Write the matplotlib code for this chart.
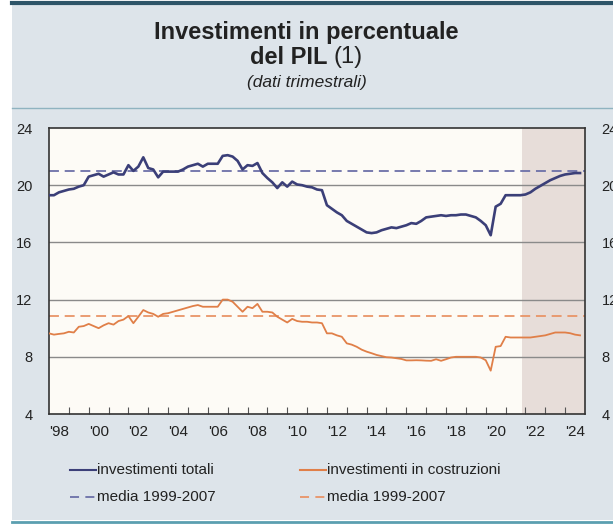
import matplotlib.pyplot as plt
from matplotlib.patches import Rectangle
from matplotlib.lines import Line2D

plt.rcParams['font.family'] = ['Liberation Sans', 'DejaVu Sans']

# quarterly data, 1998Q1 - 2024Q4 (per cent of GDP)
years = list(range(1998, 2025))
inv_totali = [
    19.3, 19.3, 19.5, 19.6,      # 1998
    19.7, 19.75, 19.9, 20.0,     # 1999
    20.6, 20.7, 20.8, 20.6,      # 2000
    20.75, 20.9, 20.75, 20.75,   # 2001
    21.4, 21.0, 21.3, 21.95,     # 2002
    21.2, 21.1, 20.55, 20.95,    # 2003
    20.95, 20.95, 20.95, 21.1,   # 2004
    21.3, 21.4, 21.5, 21.3,      # 2005
    21.5, 21.5, 21.5, 22.05,     # 2006
    22.1, 22.0, 21.7, 21.1,      # 2007
    21.4, 21.35, 21.55, 20.85,   # 2008
    20.5, 20.2, 19.8, 20.2,      # 2009
    19.9, 20.25, 20.05, 20.0,    # 2010
    19.9, 19.85, 19.7, 19.65,    # 2011
    18.6, 18.35, 18.1, 17.9,     # 2012
    17.5, 17.3, 17.1, 16.9,      # 2013
    16.7, 16.65, 16.7, 16.85,    # 2014
    16.95, 17.05, 17.0, 17.1,    # 2015
    17.2, 17.35, 17.3, 17.5,     # 2016
    17.75, 17.8, 17.85, 17.9,    # 2017
    17.85, 17.9, 17.9, 17.95,    # 2018
    17.95, 17.85, 17.75, 17.5,   # 2019
    17.2, 16.5, 18.5, 18.7,      # 2020
    19.3, 19.3, 19.3, 19.3,      # 2021
    19.35, 19.5, 19.75, 19.95,   # 2022
    20.15, 20.35, 20.5, 20.65,   # 2023
    20.75, 20.8, 20.85, 20.85,   # 2024
]
inv_costruzioni = [
    9.64, 9.55, 9.6, 9.64,
    9.75, 9.7, 10.1, 10.15,
    10.3, 10.15, 10.0, 10.2,
    10.35, 10.25, 10.5, 10.6,
    10.85, 10.35, 10.8, 11.27,
    11.1, 11.0, 10.8, 11.0,
    11.05, 11.15, 11.25, 11.35,
    11.45, 11.55, 11.62, 11.5,
    11.5, 11.5, 11.5, 12.0,
    12.0, 11.85, 11.5, 11.15,
    11.5, 11.4, 11.7, 11.15,
    11.15, 11.1, 10.8, 10.6,
    10.4, 10.65, 10.5, 10.45,
    10.45, 10.4, 10.4, 10.35,
    9.64, 9.64, 9.5, 9.4,
    8.94, 8.85, 8.7, 8.5,
    8.36, 8.25, 8.13, 8.05,
    7.97, 7.95, 7.9, 7.85,
    7.75, 7.75, 7.76, 7.75,
    7.73, 7.72, 7.83, 7.72,
    7.83, 7.95, 8.0, 8.0,
    8.0, 8.0, 8.0, 7.95,
    7.76, 7.03, 8.7, 8.75,
    9.4, 9.35, 9.35, 9.35,
    9.35, 9.35, 9.4, 9.45,
    9.5, 9.6, 9.7, 9.7,
    9.7, 9.65, 9.55, 9.5,
]
media_totali = 21.0
media_costruzioni = 10.85
shade_start = 2021.85

t = [y + q / 4 for y in years for q in range(4)]

bg = '#dde4ea'
blue = '#3b3f78'
blue_dash = '#6c70a8'
orange = '#e07f48'
orange_dash = '#e99468'
txt = '#222222'

fig = plt.figure(figsize=(6.13, 5.25), dpi=100, facecolor='white')
fig.patches.append(Rectangle((12 / 613, 5 / 525), 1, 515 / 525,
                             transform=fig.transFigure, facecolor=bg,
                             edgecolor='none', zorder=-10))
fig.lines.append(Line2D([12 / 613, 1], [1 - 3 / 525] * 2, transform=fig.transFigure,
                        color='#2d5468', lw=3))
fig.lines.append(Line2D([12 / 613, 1], [1 - 108 / 525] * 2, transform=fig.transFigure,
                        color='#8fb3c0', lw=1))
fig.lines.append(Line2D([12 / 613, 1], [3 / 525] * 2, transform=fig.transFigure,
                        color='#5b9fb0', lw=2))

# title
fig.text(0.5, 1 - 33 / 525, 'Investimenti in percentuale', ha='center', va='center',
         fontsize=17, fontweight='bold', color=txt)
r = fig.canvas.get_renderer()
t1 = fig.text(0, 1 - 57 / 525, 'del PIL ', ha='left', va='center',
              fontsize=17, fontweight='bold', color=txt)
t2 = fig.text(0, 1 - 57 / 525, '(1)', ha='left', va='center',
              fontsize=17, color=txt)
w1 = t1.get_window_extent(r).width / fig.bbox.width
w2 = t2.get_window_extent(r).width / fig.bbox.width
x0 = 0.5 - (w1 + w2) / 2
t1.set_x(x0)
t2.set_x(x0 + w1)
fig.text(0.5, 1 - 83 / 525, '(dati trimestrali)', ha='center', va='center',
         fontsize=12.5, style='italic', color=txt)

ax = fig.add_axes([49 / 613, 1 - 414 / 525, 536 / 613, 286 / 525])
ax.set_facecolor('#fdfbf6')
ax.axvspan(shade_start, 2025, color='#e7ddd9', zorder=0, lw=0)
for g in [8, 12, 16, 20]:
    ax.axhline(g, color='#8a8a8a', lw=1, zorder=1)

ax.axhline(media_totali, color=blue_dash, lw=1.3, dashes=(5.5, 3.2), zorder=2)
ax.axhline(media_costruzioni, color=orange_dash, lw=1.3, dashes=(5.5, 3.2), zorder=2)
ax.plot(t, inv_totali, color=blue, lw=1.9, zorder=3)
ax.plot(t, inv_costruzioni, color=orange, lw=1.3, zorder=3)

ax.set_xlim(1998, 2025)
ax.set_ylim(4, 24)
ax.set_yticks([4, 8, 12, 16, 20, 24])
ax.tick_params(axis='y', length=0, labelsize=10.5, colors=txt, pad=12,
               labelright=True)
ax.set_xticks(years[1:])
ax.set_xticklabels([])
ax.set_xticks([y + 0.5 for y in years if y % 2 == 0], minor=True)
ax.set_xticklabels(["'%02d" % (y % 100) for y in years if y % 2 == 0], minor=True)
ax.tick_params(axis='x', which='major', direction='in', length=5, color='#555555')
ax.tick_params(axis='x', which='minor', length=0, labelsize=11, colors=txt, pad=8)
for s in ax.spines.values():
    s.set_color('#333333')
    s.set_linewidth(1.2)

# legend
items = [
    (70, 470, blue, '-', 'investimenti totali'),
    (70, 497, blue_dash, '--', 'media 1999-2007'),
    (300, 470, orange, '-', 'investimenti in costruzioni'),
    (300, 497, orange_dash, '--', 'media 1999-2007'),
]
for lx, ly, c, ls, lab in items:
    yy = 1 - ly / 525
    if ls == '-':
        fig.lines.append(Line2D([lx / 613, (lx + 26) / 613], [yy, yy],
                                transform=fig.transFigure, color=c, lw=1.5))
    else:
        fig.lines.append(Line2D([lx / 613, (lx + 26) / 613], [yy, yy],
                                transform=fig.transFigure, color=c, lw=1.3,
                                dashes=(5, 3.5)))
    fig.text((lx + 27) / 613, yy, lab, ha='left', va='center', fontsize=11,
             color=txt)

fig.savefig('out.png', dpi=100, facecolor=fig.get_facecolor())
